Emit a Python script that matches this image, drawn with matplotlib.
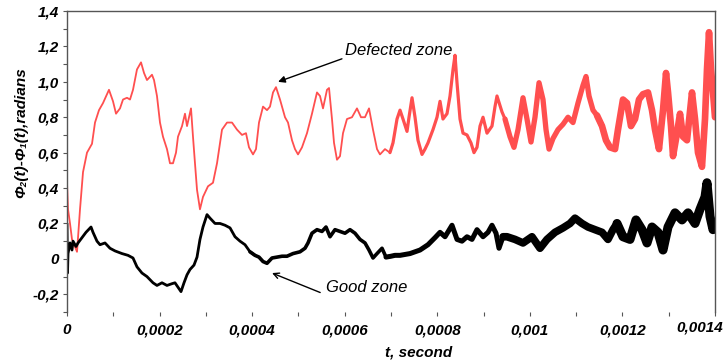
import numpy as np
import matplotlib
matplotlib.use("Agg")
import matplotlib.pyplot as plt
from matplotlib.ticker import FixedLocator, MultipleLocator, FuncFormatter

plt.rcParams["font.family"] = ["Liberation Sans", "DejaVu Sans"]
plt.rcParams["axes.unicode_minus"] = False

# time in microseconds, phase difference in radians
t_defect = [0, 2.2, 6.5, 10.8, 21.6, 23.8, 28.1, 34.6, 43.2, 54.0, 60.5, 69.1, 77.8, 90.7,
            99.4, 105.9, 114.5, 121.0, 129.6, 136.1, 142.6, 151.2, 159.9, 166.4, 172.8,
            183.6, 188.0, 194.4, 200.9, 207.4, 216.0, 222.5, 229.0, 235.5, 239.8, 248.5,
            254.9, 259.3, 267.9, 272.2, 276.5, 280.9, 287.3, 293.8, 304.6, 315.4, 324.1,
            334.9, 345.7, 356.5, 367.3, 378.1, 386.7, 393.2, 401.9, 408.3, 414.8, 423.5,
            432.1, 438.6, 445.1, 451.5, 460.2, 471.0, 477.5, 486.1, 492.6, 499.1, 507.7,
            518.5, 529.3, 540.1, 546.6, 553.1, 561.7, 566.1, 572.5, 576.9, 583.3, 589.8,
            596.3, 604.9, 615.7, 626.5, 635.2, 643.8, 652.5, 661.1, 669.8, 676.2, 687.0,
            697.8, 704.3, 713.0, 719.5, 725.9, 734.6, 738.9, 745.4, 751.9, 758.3, 767.0,
            773.5, 779.9, 790.7, 799.4, 805.9, 812.3, 821.0, 827.5, 834.0, 838.3, 842.6,
            849.1, 855.6, 864.2, 872.8, 879.3, 885.8, 892.3, 898.8, 907.4, 918.2, 924.7,
            929.0, 939.8, 946.3, 957.1, 965.7, 974.4, 985.2, 993.8, 1002.5, 1011.1, 1019.8,
            1028.4, 1034.9, 1041.4, 1050.0, 1060.8, 1071.6, 1082.4, 1093.2, 1104.0, 1114.8,
            1121.3, 1127.8, 1136.4, 1145.1, 1155.9, 1164.5, 1173.2, 1184.0, 1190.4, 1201.2,
            1209.9, 1218.5, 1227.2, 1235.8, 1244.4, 1255.2, 1263.9, 1270.4, 1279.0, 1287.7,
            1294.2, 1298.5, 1305.0, 1309.3, 1317.9, 1324.4, 1330.9, 1339.5, 1350.3, 1356.8,
            1363.3, 1371.9, 1378.4, 1382.7, 1387.1, 1391.4, 1395.7, 1400.0]
phi_defect = [0.43, 0.28, 0.20, 0.11, 0.04, 0.12, 0.28, 0.49, 0.60, 0.65, 0.77, 0.84, 0.88, 0.955,
              0.89, 0.82, 0.85, 0.90, 0.91, 0.90, 0.955, 1.07, 1.11, 1.05, 1.01,
              1.04, 1.01, 0.92, 0.77, 0.69, 0.62, 0.54, 0.54, 0.60, 0.69, 0.75,
              0.82, 0.75, 0.85, 0.69, 0.54, 0.39, 0.28, 0.35, 0.41, 0.43, 0.54,
              0.73, 0.77, 0.77, 0.73, 0.70, 0.71, 0.63, 0.59, 0.62, 0.77, 0.86,
              0.84, 0.86, 0.94, 0.97, 0.90, 0.80, 0.77, 0.67, 0.62, 0.59, 0.63,
              0.71, 0.82, 0.94, 0.92, 0.85, 0.955, 0.965, 0.79, 0.655, 0.56, 0.58,
              0.71, 0.79, 0.80, 0.85, 0.80, 0.80, 0.85, 0.73, 0.62, 0.59, 0.62,
              0.60, 0.655, 0.79, 0.84, 0.79, 0.72, 0.80, 0.91, 0.80, 0.67, 0.59,
              0.62, 0.655, 0.73, 0.80, 0.89, 0.79, 0.82, 0.92, 1.07, 1.15, 0.995,
              0.79, 0.71, 0.70, 0.655, 0.60, 0.63, 0.75, 0.80, 0.71, 0.75, 0.86,
              0.92, 0.83, 0.79, 0.69, 0.63, 0.73, 0.91, 0.79, 0.66, 0.80, 0.995,
              0.90, 0.73, 0.62, 0.68, 0.73, 0.76, 0.80, 0.77, 0.88, 0.98,
              1.03, 0.92, 0.84, 0.81, 0.75, 0.67, 0.63, 0.62, 0.73, 0.90,
              0.88, 0.75, 0.79, 0.90, 0.93, 0.94, 0.84, 0.73, 0.62, 0.84,
              1.05, 0.94, 0.75, 0.58, 0.71, 0.82, 0.69, 0.67, 0.94, 0.79,
              0.60, 0.52, 0.79, 1.07, 1.28, 1.07, 0.94, 0.80]

t_good = [0, 1.1, 2.2, 6.5, 10.8, 13.0, 19.4, 23.8, 32.4, 41.0, 51.9, 56.2, 64.8, 71.3, 82.1,
          92.9, 103.7, 118.8, 131.8, 142.6, 151.2, 162.0, 172.8, 185.8, 194.4, 205.2, 216.0,
          226.9, 233.3, 246.3, 252.8, 259.3, 265.7, 274.4, 280.9, 287.3, 293.8, 302.5, 309.0,
          319.8, 330.6, 341.4, 352.2, 363.0, 373.8, 384.6, 395.4, 406.2, 414.8, 423.5, 432.1,
          442.9, 453.7, 464.5, 475.3, 488.3, 503.4, 514.2, 520.7, 529.3, 540.1, 550.9, 559.6,
          568.2, 579.0, 589.8, 600.6, 611.4, 622.2, 633.0, 643.8, 652.5, 661.1, 669.8, 680.6,
          689.2, 700.0, 708.6, 719.5, 741.1, 762.7, 779.9, 795.1, 805.9, 816.7, 831.8, 842.6,
          853.4, 864.2, 875.0, 885.8, 898.8, 909.6, 918.2, 926.9, 933.3, 942.0, 950.6, 967.9,
          985.2, 1004.6, 1021.9, 1037.0, 1054.3, 1071.6, 1086.7, 1097.5, 1112.7, 1125.6,
          1140.7, 1155.9, 1168.8, 1179.6, 1188.3, 1201.2, 1216.4, 1229.3, 1242.3, 1253.1,
          1263.9, 1276.8, 1287.7, 1298.5, 1313.6, 1328.7, 1341.7, 1356.8, 1367.6, 1378.4,
          1382.7, 1389.2, 1395.7, 1400.0]
phi_good = [0.20, -0.08, 0.03, 0.09, 0.05, 0.10, 0.07, 0.09, 0.12, 0.15, 0.18, 0.15, 0.10, 0.08, 0.09,
            0.06, 0.045, 0.03, 0.02, 0.005, -0.045, -0.08, -0.10, -0.135, -0.15, -0.135, -0.15,
            -0.14, -0.135, -0.185, -0.135, -0.09, -0.06, -0.035, 0.01, 0.11, 0.18, 0.25, 0.23,
            0.20, 0.20, 0.19, 0.175, 0.125, 0.10, 0.08, 0.04, 0.02, 0.01, -0.015, -0.025,
            0.005, 0.01, 0.015, 0.015, 0.03, 0.04, 0.06, 0.09, 0.145, 0.165, 0.155, 0.18,
            0.125, 0.165, 0.155, 0.145, 0.165, 0.145, 0.11, 0.09, 0.05, 0.005, 0.03, 0.06,
            0.01, 0.015, 0.02, 0.02, 0.03, 0.05, 0.08, 0.12, 0.15, 0.125, 0.19, 0.11,
            0.10, 0.125, 0.11, 0.165, 0.125, 0.15, 0.19, 0.145, 0.06, 0.125, 0.125, 0.11,
            0.09, 0.125, 0.06, 0.11, 0.15, 0.175, 0.20, 0.23, 0.20, 0.18,
            0.165, 0.15, 0.11, 0.165, 0.20, 0.125, 0.11, 0.22, 0.165, 0.09,
            0.18, 0.15, 0.05, 0.18, 0.26, 0.22, 0.26, 0.20, 0.28, 0.35,
            0.43, 0.24, 0.165, 0.20]

x_ticks = [0, 0.0002, 0.0004, 0.0006, 0.0008, 0.001, 0.0012, 0.0014]
y_ticks = [-0.2, 0, 0.2, 0.4, 0.6, 0.8, 1.0, 1.2, 1.4]

RED = "#ff4f4f"
BOLD_IT = dict(fontweight="bold", fontstyle="italic")

fig = plt.figure(figsize=(7.24, 3.63), dpi=100)
ax = fig.add_axes([67 / 724, 1 - 312 / 363, 648 / 724, 301 / 363])


def draw(t_us, y, color, pieces):
    # the signal gets noisier with time, so draw it thicker piece by piece
    t = np.array(t_us)
    y = np.array(y)
    for a, b, lw in pieces:
        i0 = max(np.searchsorted(t, a) - 1, 0)
        i1 = np.searchsorted(t, b, side="right")
        ax.plot(t[i0:i1 + 1] * 1e-6, y[i0:i1 + 1], color=color, lw=lw,
                solid_joinstyle="round", solid_capstyle="round")


draw(t_defect, phi_defect, RED,
     [(0, 700, 1.3), (700, 950, 2.3), (950, 1150, 3.8), (1150, 1401, 4.8)])
draw(t_good, phi_good, "black",
     [(0, 400, 2.0), (400, 700, 2.6), (700, 950, 3.6), (950, 1200, 5.5), (1200, 1401, 6.5)])

ax.set_xlim(0, 0.0014)
ax.set_ylim(-0.3, 1.4)

ax.xaxis.set_major_locator(FixedLocator(x_ticks))
ax.xaxis.set_minor_locator(MultipleLocator(0.0001))
ax.yaxis.set_major_locator(FixedLocator(y_ticks))
ax.yaxis.set_minor_locator(MultipleLocator(0.1))


def xfmt(v, p):
    # last label sits off-centre (shifted left) in the original, drawn separately below
    if abs(v - x_ticks[-1]) < 1e-9:
        return ""
    return f"{v:g}".replace(".", ",")


ax.xaxis.set_major_formatter(FuncFormatter(xfmt))
ax.yaxis.set_major_formatter(FuncFormatter(
    lambda v, p: "0" if abs(v) < 1e-9 else f"{v:.1f}".replace(".", ",")))

for s in ["left", "top", "right"]:
    ax.spines[s].set_color("#555555")
    ax.spines[s].set_linewidth(1.0)
ax.spines["bottom"].set_visible(False)

ax.tick_params(which="both", direction="out", length=3, width=0.8, color="#555555")
ax.tick_params(axis="x", which="major", pad=5)
ax.tick_params(axis="y", which="major", pad=3)
for lab in ax.get_xticklabels() + ax.get_yticklabels():
    lab.set_fontsize(11)
    lab.set_fontweight("bold")
    lab.set_fontstyle("italic")

ax.annotate(f"{x_ticks[-1]:g}".replace(".", ","), xy=(x_ticks[-1], 0),
            xycoords=("data", "axes fraction"), xytext=(6, -6),
            textcoords="offset points", ha="right", va="top", fontsize=11, **BOLD_IT)

ax.set_xlabel("t, second", fontsize=11, **BOLD_IT)
ax.xaxis.set_label_coords(0.542, -0.11)
ax.set_ylabel("Φ₂(t)-Φ₁(t),radians", fontsize=11, **BOLD_IT,
              family=["Liberation Sans Narrow", "Liberation Sans", "DejaVu Sans"])
ax.yaxis.set_label_coords(-0.06, 0.595)

ax.text(717e-6, 1.175, "Defected zone", fontsize=12, fontstyle="italic",
        ha="center", va="center")
ax.annotate("", xy=(456e-6, 1.0), xytext=(594e-6, 1.13),
            arrowprops=dict(arrowstyle="-|>", color="black", lw=1.0,
                            mutation_scale=10, shrinkA=0, shrinkB=0))
ax.text(648e-6, -0.164, "Good zone", fontsize=12, fontstyle="italic",
        ha="center", va="center")
ax.annotate("", xy=(443e-6, -0.08), xytext=(547e-6, -0.19),
            arrowprops=dict(arrowstyle="->", color="black", lw=1.0,
                            mutation_scale=10, shrinkA=0, shrinkB=0))

fig.savefig("out.png", dpi=100)
